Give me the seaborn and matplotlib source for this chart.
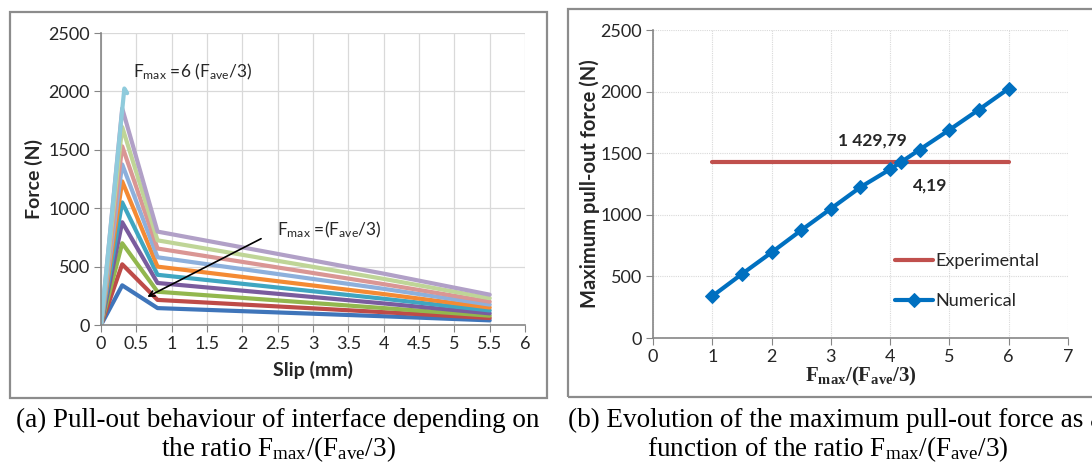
import numpy as np
import pandas as pd
import matplotlib
matplotlib.use("Agg")
import matplotlib.pyplot as plt
import seaborn as sns
from matplotlib.patches import Rectangle

# ---------------- data ----------------
ratios = [1, 1.5, 2, 2.5, 3, 3.5, 4, 4.5, 5, 5.5]
slip_pts = [0, 0.3, 0.8, 4.0, 5.5]
force_1 = [0, 340, 145, 75, 40]
force_1_5 = [0, 520, 215, 110, 60]
force_2 = [0, 700, 285, 145, 80]
force_2_5 = [0, 880, 360, 185, 100]
force_3 = [0, 1050, 430, 225, 125]
force_3_5 = [0, 1230, 500, 265, 150]
force_4 = [0, 1375, 580, 310, 175]
force_4_5 = [0, 1530, 655, 350, 200]
force_5 = [0, 1695, 725, 395, 230]
force_5_5 = [0, 1855, 800, 440, 260]
slip_6 = [0, 0.33, 0.37]
force_6 = [0, 2025, 1985]

num_ratio = [1, 1.5, 2, 2.5, 3, 3.5, 4, 4.19, 4.5, 5, 5.5, 6]
num_force = [340, 520, 695, 875, 1050, 1225, 1370, 1430, 1530, 1690, 1855, 2025]
exp_ratio = [1, 6]
exp_force = [1429.79, 1429.79]

curve_colors = ["#3F75BA", "#BE4B48", "#92B74E", "#7A5C9E", "#3FA6C1",
                "#F48A33", "#8DB0DC", "#DA9694", "#BFD597", "#B1A0C7", "#8FCBDC"]

# ---------------- build long table ----------------
rows = []
curves = [force_1, force_1_5, force_2, force_2_5, force_3, force_3_5,
          force_4, force_4_5, force_5, force_5_5]
for r, ys in zip(ratios, curves):
    for x, y in zip(slip_pts, ys):
        rows.append((str(r), x, y))
for x, y in zip(slip_6, force_6):
    rows.append(("6", x, y))
df = pd.DataFrame(rows, columns=["ratio", "slip", "force"])
hue_order = [str(r) for r in ratios] + ["6"]

sns.set_style("white")
plt.rcParams["font.family"] = ["Lato", "DejaVu Sans"]
plt.rcParams["mathtext.default"] = "regular"

fig = plt.figure(figsize=(10.92, 4.65), dpi=100)

# frames
fig.patches.append(Rectangle((0.0092, 0.144), 0.4918, 0.830, transform=fig.transFigure,
                             fill=False, edgecolor="#8c8c8c", linewidth=1.6, zorder=0))
fig.patches.append(Rectangle((0.520, 0.146), 0.50, 0.834, transform=fig.transFigure,
                             fill=False, edgecolor="#8c8c8c", linewidth=1.6, zorder=0))

spine_c = "#868686"
grid_c = "#d9d9d9"

# ---------------- left panel ----------------
ax1 = fig.add_axes([0.0925, 0.301, 0.3883, 0.628])
sns.lineplot(data=df, x="slip", y="force", hue="ratio", hue_order=hue_order,
             palette=curve_colors, sort=False, estimator=None, linewidth=3.0,
             legend=False, ax=ax1)
ax1.set_xlim(0, 6)
ax1.set_ylim(0, 2500)
ax1.set_xticks(np.arange(0, 6.01, 0.5))
ax1.set_xticklabels(["0", "0.5", "1", "1.5", "2", "2.5", "3", "3.5", "4", "4.5", "5", "5.5", "6"])
ax1.set_yticks([0, 500, 1000, 1500, 2000, 2500])
ax1.grid(True, color=grid_c, linewidth=0.9)
ax1.set_axisbelow(True)
ax1.set_xlabel("Slip (mm)", fontsize=14, fontweight="bold", labelpad=6)
ax1.set_ylabel("Force (N)", fontsize=14, fontweight="bold", labelpad=4)
ax1.text(0.45, 2165, r"F$_{max}$ =6 (F$_{ave}$/3)", fontsize=12.5, va="center", ha="left")
ax1.text(2.49, 813, r"F$_{max}$ =(F$_{ave}$/3)", fontsize=12.5, va="center", ha="left")
ax1.annotate("", xy=(0.62, 230), xytext=(2.3, 750),
             arrowprops=dict(arrowstyle="->", color="black", lw=1.2))

# ---------------- right panel ----------------
ax2 = fig.add_axes([0.598, 0.273, 0.380, 0.6624])
sns.lineplot(x=exp_ratio, y=exp_force, color="#C0504D", linewidth=3.0,
             label="Experimental", ax=ax2)
sns.lineplot(x=num_ratio, y=num_force, color="#0070C0", linewidth=3.0,
             marker="D", markersize=7, markeredgecolor="#0070C0",
             label="Numerical", ax=ax2)
ax2.set_xlim(0, 7)
ax2.set_ylim(0, 2500)
ax2.set_xticks(range(0, 8))
ax2.set_yticks([0, 500, 1000, 1500, 2000, 2500])
ax2.grid(True, color=grid_c, linewidth=0.8, linestyle=(0, (1, 1)))
ax2.set_axisbelow(True)
ax2.set_ylabel("Maximum pull-out force (N)", fontsize=14.5, fontweight="bold", labelpad=0)
ax2.set_xlabel(r"F$_{max}$/(F$_{ave}$/3)", fontsize=15, fontweight="bold",
               family=["Liberation Serif"], labelpad=0)
ax2.text(3.7, 1600, "1 429,79", fontsize=12.5, fontweight="bold", ha="center", va="center")
ax2.text(4.67, 1235, "4,19", fontsize=12.5, fontweight="bold", ha="center", va="center")
leg = ax2.legend(loc="center left", bbox_to_anchor=(0.545, 0.185), frameon=False,
                 fontsize=13, handlelength=2.1, handletextpad=0.1, labelspacing=1.35)

for ax in (ax1, ax2):
    for s in ("top", "right"):
        ax.spines[s].set_visible(False)
    for s in ("left", "bottom"):
        ax.spines[s].set_color(spine_c)
        ax.spines[s].set_linewidth(1.2)
    ax.tick_params(axis="both", which="major", labelsize=13, length=5,
                   color=spine_c, direction="out", bottom=True, left=True, pad=3)

# ---------------- captions ----------------
cap_font = dict(family=["Liberation Serif"], fontsize=19.5, color="black")
fig.text(278 / 1092, 1 - 420 / 465, "(a) Pull-out behaviour of interface depending on",
         ha="center", va="center", **cap_font)
fig.text(278 / 1092, 1 - 449 / 465, r"the ratio F$_{max}$/(F$_{ave}$/3)",
         ha="center", va="center", **cap_font)
fig.text(568 / 1092, 1 - 420 / 465, "(b) Evolution of the maximum pull-out force as a",
         ha="left", va="center", **cap_font)
fig.text(828 / 1092, 1 - 449 / 465, r"function of the ratio F$_{max}$/(F$_{ave}$/3)",
         ha="center", va="center", **cap_font)

fig.savefig("out.png", dpi=100)
